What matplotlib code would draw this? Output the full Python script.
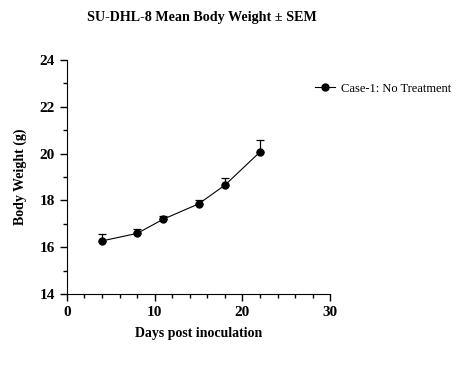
import numpy as np
import matplotlib.pyplot as plt
from matplotlib.ticker import MultipleLocator

days = [4, 8, 11, 15, 18, 22]
weight = [16.27, 16.59, 17.2, 17.85, 18.65, 20.07]
sem = [0.31, 0.2, 0.14, 0.18, 0.32, 0.5]

plt.rcParams['font.family'] = ['Liberation Serif']

fig = plt.figure(figsize=(4.58, 3.68), dpi=100)
ax = fig.add_axes([0.146, 0.201, 0.575, 0.636])

# upper-only error bars, Prism style
ax.errorbar(days, weight, yerr=[np.zeros(len(sem)), sem], fmt='none',
            ecolor='black', elinewidth=0.9, capsize=3, capthick=0.9)
ax.plot(days, weight, color='black', marker='o', markersize=5, linewidth=0.8,
        label='Case-1: No Treatment')

ax.set_xlim(0, 30)
ax.set_ylim(14, 24)
ax.xaxis.set_major_locator(MultipleLocator(10))
ax.xaxis.set_minor_locator(MultipleLocator(2))
ax.yaxis.set_major_locator(MultipleLocator(2))
ax.yaxis.set_minor_locator(MultipleLocator(1))
for s in ['top', 'right']:
    ax.spines[s].set_visible(False)
ax.tick_params(which='major', length=5, width=1, labelsize=11)
ax.tick_params(which='minor', length=3, width=1)
for lbl in ax.get_xticklabels() + ax.get_yticklabels():
    lbl.set_fontweight('bold')

ax.set_xlabel('Days post inoculation', fontsize=10, fontweight='bold', labelpad=6)
ax.set_ylabel('Body Weight (g)', fontsize=10, fontweight='bold', labelpad=9)
fig.text(0.441, 0.953, 'SU-DHL-8 Mean Body Weight ± SEM', fontsize=10.2,
         fontweight='bold', ha='center', va='center')

ax.legend(loc='center left', bbox_to_anchor=(0.898, 0.877), frameon=False,
          fontsize=9, handlelength=1.6, handletextpad=0.5)

fig.savefig('out.png', dpi=100)
